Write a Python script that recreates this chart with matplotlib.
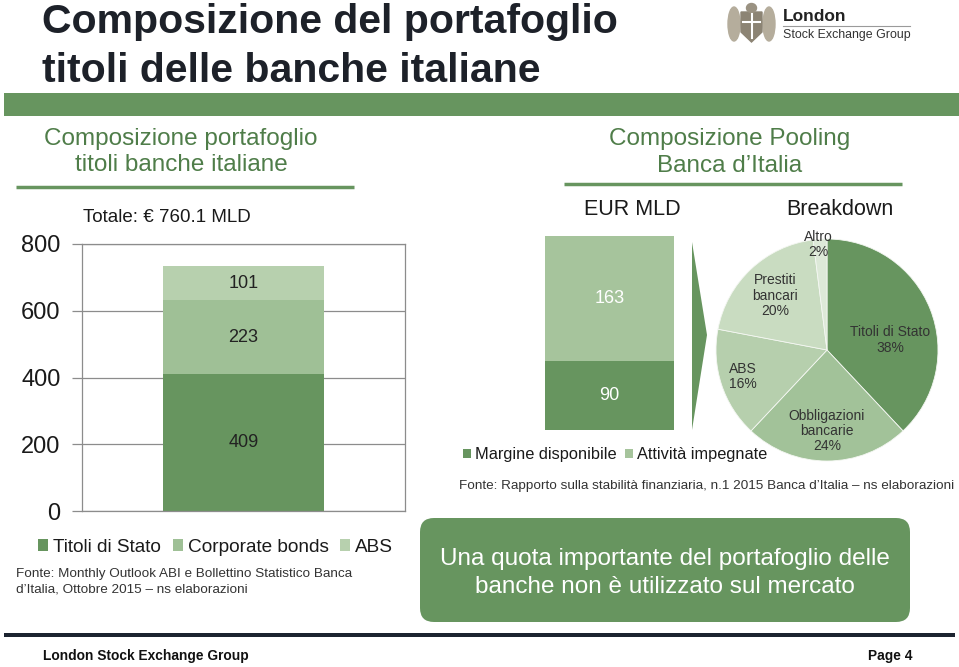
import matplotlib
matplotlib.use("Agg")
import matplotlib.pyplot as plt
from matplotlib.patches import FancyBboxPatch, Polygon, Rectangle, Ellipse

plt.rcParams['font.family'] = ['Liberation Sans', 'DejaVu Sans']

W, H = 959, 667

# left chart: composizione portafoglio titoli banche italiane (EUR mld)
left_categories = ["Titoli di Stato", "Corporate bonds", "ABS"]
left_values = [409, 223, 101]
left_ticks = [0, 200, 400, 600, 800]

# middle chart: pooling Banca d'Italia (EUR mld)
pool_categories = ["Margine disponibile", "Attività impegnate"]
pool_values = [90, 163]

# pie: breakdown of pooling
pie_labels = ["Titoli di Stato", "Obbligazioni\nbancarie", "ABS", "Prestiti\nbancari", "Altro"]
pie_values = [38, 24, 16, 20, 2]

GREEN = '#67955f'
MID = '#9fc096'
LIGHT = '#b7d0ae'
left_colors = [GREEN, MID, LIGHT]
pool_colors = [GREEN, '#a6c49c']
pie_colors = [GREEN, '#a2c299', '#b6cfad', '#c9dcc1', '#dde9d8']
HEAD = '#4f7d49'


def box(x0, y0, x1, y1):
    return [x0 / W, 1 - y1 / H, (x1 - x0) / W, (y1 - y0) / H]


fig = plt.figure(figsize=(W / 100, H / 100), dpi=100)
bg = fig.add_axes([0, 0, 1, 1])
bg.set_xlim(0, W)
bg.set_ylim(H, 0)
bg.axis('off')

# title
bg.text(42, 33, "Composizione del portafoglio", fontsize=29.5, fontweight='bold', color='#1d2129', va='baseline')
bg.text(42, 82, "titoli delle banche italiane", fontsize=29.5, fontweight='bold', color='#1d2129', va='baseline')

# logo
bg.add_patch(Ellipse((734, 24), 12, 34, color='#b5ad9c'))
bg.add_patch(Ellipse((769, 24), 12, 34, color='#b5ad9c'))
bg.add_patch(Polygon([[741, 12], [762, 12], [762, 32], [751.5, 42], [741, 32]], closed=True, color='#8c8474'))
bg.plot([751.5, 751.5], [14, 38], color='white', lw=1.5)
bg.plot([743, 760], [22, 22], color='white', lw=1.5)
bg.add_patch(Ellipse((751.5, 8), 10, 9, color='#9a9282'))
bg.text(783, 21, "London", fontsize=12.5, fontweight='bold', color='#222222', va='baseline')
bg.plot([783, 910], [25.5, 25.5], color='#9a9a9a', lw=0.8)
bg.text(783, 38, "Stock Exchange Group", fontsize=8.9, color='#333333', va='baseline')

# green band
bg.add_patch(Rectangle((4, 93), W - 4, 23, color=GREEN, lw=0))

# section headers
bg.text(181, 145, "Composizione portafoglio", fontsize=17.5, color=HEAD, ha='center', va='baseline')
bg.text(181, 171, "titoli banche italiane", fontsize=17.5, color=HEAD, ha='center', va='baseline')
bg.plot([16, 354], [187, 187], color=GREEN, lw=2.5, solid_capstyle='butt')
bg.text(730, 145, "Composizione Pooling", fontsize=17.5, color=HEAD, ha='center', va='baseline')
bg.text(730, 172, "Banca d\u2019Italia", fontsize=17.5, color=HEAD, ha='center', va='baseline')
bg.plot([564, 902], [184, 184], color=GREEN, lw=2.5, solid_capstyle='butt')

# ---- left stacked bar
ax = fig.add_axes(box(82, 244, 405, 511))
ax.set_facecolor('none')
bottom = 0
for cat, val, col in zip(left_categories, left_values, left_colors):
    b = ax.bar(0, val, width=1, bottom=bottom, color=col, label=cat, zorder=2)
    ax.bar_label(b, labels=[str(val)], label_type='center', fontsize=13, color='#222222')
    bottom += val
ax.set_xlim(-1, 1)
ax.set_ylim(0, 800)
ax.set_yticks(left_ticks)
ax.set_xticks([])
ax.yaxis.grid(True, color='#8c8c8c', lw=0.9)
ax.set_axisbelow(True)
for s in ax.spines.values():
    s.set_color('#8c8c8c')
    s.set_linewidth(0.9)
ax.tick_params(axis='y', length=7, width=0.9, color='#8c8c8c', labelsize=17, labelcolor='#1a1a1a', pad=8.5)
ax.legend(loc='center left', bbox_to_anchor=(38 / W, 1 - 547 / H), bbox_transform=fig.transFigure,
          ncol=3, frameon=False, fontsize=13.7, handlelength=0.55, handleheight=0.55,
          handletextpad=0.25, columnspacing=0.6, borderpad=0, borderaxespad=0)
for t in ax.get_legend().get_texts():
    t.set_color('#1a1a1a')

bg.text(83, 222, "Totale: \u20ac 760.1 MLD", fontsize=13.5, color='#1a1a1a', va='baseline')
bg.text(16, 577, "Fonte: Monthly Outlook ABI e Bollettino Statistico Banca", fontsize=9.7, color='#333333', va='baseline')
bg.text(16, 593, "d\u2019Italia, Ottobre 2015 \u2013 ns elaborazioni", fontsize=9.7, color='#333333', va='baseline')

# ---- middle stacked bar
axm = fig.add_axes(box(545, 236, 674, 430))
axm.set_facecolor('none')
bottom = 0
for cat, val, col in zip(pool_categories, pool_values, pool_colors):
    b = axm.bar(0, val, width=1, bottom=bottom, color=col, label=cat)
    axm.bar_label(b, labels=[str(val)], label_type='center', fontsize=13, color='white')
    bottom += val
axm.set_xlim(-0.5, 0.5)
axm.set_ylim(0, sum(pool_values))
axm.axis('off')
axm.legend(loc='center left', bbox_to_anchor=(463 / W, 1 - 455 / H), bbox_transform=fig.transFigure,
           ncol=2, frameon=False, fontsize=11.8, handlelength=0.5, handleheight=0.5,
           handletextpad=0.25, columnspacing=0.5, borderpad=0, borderaxespad=0)
for t in axm.get_legend().get_texts():
    t.set_color('#1a1a1a')

bg.text(632, 215, "EUR MLD", fontsize=15.5, color='#1a1a1a', ha='center', va='baseline')
bg.text(840, 215, "Breakdown", fontsize=15.5, color='#1a1a1a', ha='center', va='baseline')

# chevron
bg.add_patch(Polygon([[692, 242], [707, 335], [692, 430]], closed=True, color=GREEN, lw=0))

# ---- pie
axp = fig.add_axes(box(716, 239, 938, 461))
axp.pie(pie_values, colors=pie_colors, startangle=90, counterclock=False, radius=1,
        wedgeprops=dict(edgecolor='#f4f7f2', linewidth=0.6))
axp.set_xlim(-1, 1)
axp.set_ylim(-1, 1)
label_xy = [(0.57, 0.09), (0.0, -0.73), (-0.76, -0.24), (-0.47, 0.49), (-0.08, 0.95)]
for lab, val, (lx, ly) in zip(pie_labels, pie_values, label_xy):
    axp.text(lx, ly, f"{lab}\n{val}%", fontsize=10, color='#333333', ha='center', va='center',
             linespacing=1.13)

bg.text(459, 489, "Fonte: Rapporto sulla stabilità finanziaria, n.1 2015 Banca d\u2019Italia \u2013 ns elaborazioni",
        fontsize=9.7, color='#333333', va='baseline')

# green message box
bg.add_patch(FancyBboxPatch((420, 518), 490, 104, boxstyle="round,pad=0,rounding_size=14",
                            color=GREEN, lw=0))
bg.text(665, 565, "Una quota importante del portafoglio delle",
        fontsize=17.5, color='white', ha='center', va='baseline')
bg.text(665, 593, "banche non è utilizzato sul mercato",
        fontsize=17.5, color='white', ha='center', va='baseline')

# footer
bg.add_patch(Rectangle((4, 633), W - 8, 4, color='#1c2430', lw=0))
bg.text(43, 660, "London Stock Exchange Group", fontsize=9.9, fontweight='bold', color='#111111', va='baseline')
bg.text(913, 660, "Page 4", fontsize=9.9, fontweight='bold', color='#111111', ha='right', va='baseline')

fig.savefig("out.png", dpi=100)
